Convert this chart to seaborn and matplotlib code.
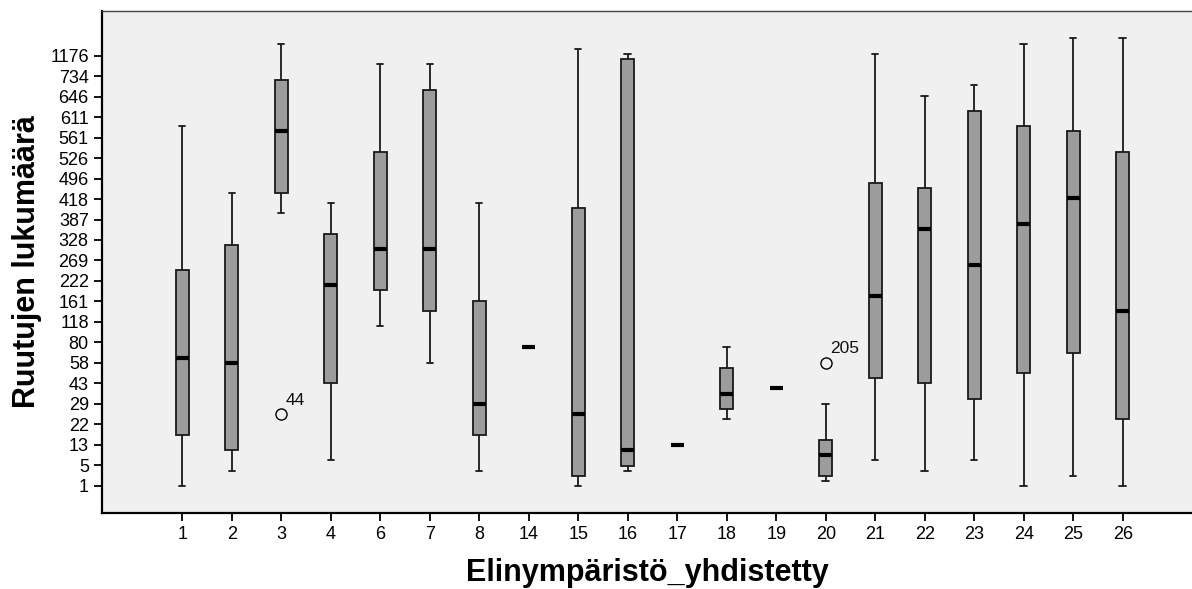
import numpy as np
import pandas as pd
import matplotlib
matplotlib.use("Agg")
import matplotlib.pyplot as plt
import seaborn as sns

# categories on x axis
categories = ['1', '2', '3', '4', '6', '7', '8', '14', '15', '16',
              '17', '18', '19', '20', '21', '22', '23', '24', '25', '26']

# y axis is an ordinal scale: position 0..21 labelled with these values
y_tick_labels = ['1', '5', '13', '22', '29', '43', '58', '80', '118', '161', '222',
                 '269', '328', '387', '418', '496', '526', '561', '611', '646', '734', '1176']

# five-number summaries on the ordinal scale (None = single value only)
whisker_low = [0.0, 0.74, 13.31, 1.24, 7.78, 6.01, 0.74, None, 0.0, 0.74,
               None, 3.24, None, 0.23, 1.24, 0.74, 1.24, 0.0, 0.48, 0.0]
q1 = [2.48, 1.73, 14.28, 5.01, 9.54, 8.51, 2.48, None, 0.48, 0.99,
      None, 3.75, None, 0.48, 5.24, 5.0, 4.25, 5.5, 6.5, 3.24]
median = [6.25, 6.01, 17.31, 9.78, 11.54, 11.54, 4.01, 6.77, 3.49, 1.73,
          1.99, 4.5, 4.76, 1.49, 9.28, 12.53, 10.79, 12.79, 14.04, 8.53]
q3 = [10.55, 11.78, 19.81, 12.28, 16.28, 19.31, 9.01, None, 13.54, 20.82,
      None, 5.77, None, 2.23, 14.79, 14.55, 18.32, 17.55, 17.31, 16.3]
whisker_high = [17.55, 14.28, 21.57, 13.8, 20.58, 20.58, 13.8, None, 21.33, 21.08,
                None, 6.76, None, 3.99, 21.08, 19.05, 19.57, 21.59, 21.84, 21.84]

# outliers: category, position, case label
outlier_cats = ['3', '20']
outlier_vals = [3.49, 6.01]
outlier_ids = ['44', '205']

rows = []
for i, c in enumerate(categories):
    if q1[i] is None:
        vals = [median[i]]
    else:
        vals = [whisker_low[i], q1[i], median[i], q3[i], whisker_high[i]]
    for v in vals:
        rows.append({'Elinympäristö_yhdistetty': c, 'Ruutujen lukumäärä': v})
df = pd.DataFrame(rows)

sns.set_style('white')
plt.rcParams['font.family'] = ['Liberation Sans', 'DejaVu Sans']
plt.rcParams['text.color'] = 'black'
plt.rcParams['axes.labelcolor'] = 'black'

fig = plt.figure(figsize=(11.92, 5.89), dpi=100)
ax = fig.add_axes([0.0856, 0.129, 0.9144, 0.853])
ax.set_facecolor('#f0f0f0')

sns.boxplot(data=df, x='Elinympäristö_yhdistetty', y='Ruutujen lukumäärä',
            order=categories, whis=(0, 100), width=0.26, showfliers=False,
            color='#9c9c9c', saturation=1, linecolor='#1a1a1a', linewidth=1.3,
            medianprops={'color': 'black', 'linewidth': 3}, ax=ax)

for c, v, lab in zip(outlier_cats, outlier_vals, outlier_ids):
    xi = categories.index(c)
    ax.plot(xi, v, 'o', mfc='none', mec='black', ms=8, mew=1)
    ax.annotate(lab, (xi, v), xytext=(3, 7), textcoords='offset points',
                fontsize=12.5, color='#111111')

ax.set_xlim(-1.62, 20.4)
ax.set_ylim(-1.33, 23.2)
ax.set_yticks(range(len(y_tick_labels)))
ax.set_yticklabels(y_tick_labels)

ax.tick_params(axis='both', which='both', direction='out', length=6, width=1.3,
               colors='black', labelsize=13, left=True, bottom=True)
for s in ['left', 'bottom']:
    ax.spines[s].set_color('black')
    ax.spines[s].set_linewidth(1.6)
ax.spines['top'].set_color('#444444')
ax.spines['top'].set_linewidth(1.0)
ax.spines['right'].set_visible(False)

ax.set_xlabel('Elinympäristö_yhdistetty', fontsize=22, fontweight='bold', labelpad=11)
ax.set_ylabel('Ruutujen lukumäärä', fontsize=22, fontweight='bold', labelpad=6)

fig.savefig('out.png', dpi=100)
